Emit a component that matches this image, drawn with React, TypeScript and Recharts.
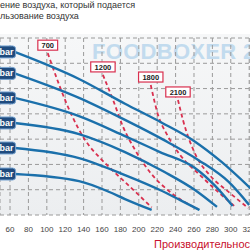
import React from "react";
import { LineChart, Line, XAxis, YAxis, CartesianGrid } from "recharts";

const xTicks = [60, 80, 100, 120, 140, 160, 180, 200, 220, 240, 260, 280, 300, 320];
const yTicks = [0, 1, 2, 3, 4, 5, 6, 7];

// pressure curves (flow, head), top to bottom
const curve1 = [
  { v: 65, p: 6.45 }, { v: 135, p: 5.38 }, { v: 185, p: 4.4 }, { v: 225, p: 3.65 },
  { v: 260, p: 2.93 }, { v: 290, p: 2.1 }, { v: 323, p: 1.0 },
];
const curve2 = [
  { v: 65, p: 5.6 }, { v: 135, p: 4.63 }, { v: 185, p: 3.76 }, { v: 227, p: 2.97 },
  { v: 265, p: 2.17 }, { v: 298, p: 1.3 }, { v: 320, p: 0.4 },
];
const curve3 = [
  { v: 65, p: 4.63 }, { v: 135, p: 3.91 }, { v: 185, p: 3.12 }, { v: 223, p: 2.49 },
  { v: 261, p: 1.86 }, { v: 282, p: 1.19 }, { v: 302, p: 0.36 },
];
const curve4 = [
  { v: 65, p: 3.64 }, { v: 135, p: 3.2 }, { v: 185, p: 2.49 }, { v: 228, p: 1.7 },
  { v: 261, p: 0.99 }, { v: 285, p: 0.32 },
];
const curve5 = [
  { v: 65, p: 2.65 }, { v: 135, p: 2.25 }, { v: 185, p: 1.58 }, { v: 223, p: 0.99 },
  { v: 245, p: 0.59 }, { v: 266, p: 0.2 },
];
const curve6 = [
  { v: 65, p: 1.62 }, { v: 135, p: 1.34 }, { v: 168, p: 0.91 }, { v: 185, p: 0.63 },
  { v: 214, p: 0.2 },
];
const pressureCurves = [curve1, curve2, curve3, curve4, curve5, curve6];

// speed lines
const rpm700 = [
  { v: 101, p: 6.4 }, { v: 127, p: 3.95 }, { v: 141.5, p: 2.97 }, { v: 158, p: 2.25 },
  { v: 171, p: 1.78 }, { v: 186, p: 1.27 }, { v: 214, p: 0.3 },
];
const rpm1200 = [
  { v: 161, p: 5.54 }, { v: 172, p: 4.55 }, { v: 183, p: 3.48 }, { v: 196, p: 2.57 },
  { v: 212, p: 1.7 }, { v: 234, p: 0.91 }, { v: 264, p: 0.24 },
];
const rpm1800 = [
  { v: 213, p: 5.14 }, { v: 221, p: 3.95 }, { v: 231, p: 3.16 }, { v: 245, p: 2.37 },
  { v: 266.5, p: 1.58 }, { v: 290, p: 0.79 }, { v: 305, p: 0.32 },
];
const rpm2100 = [
  { v: 242.6, p: 4.55 }, { v: 248, p: 3.76 }, { v: 263, p: 2.29 }, { v: 277, p: 1.58 },
  { v: 299, p: 0.87 }, { v: 319, p: 0.28 },
];
const rpmLines = [rpm700, rpm1200, rpm1800, rpm2100];
const rpmNames = ["700", "1200", "1800", "2100"];

const BLUE = "#1b70ab";
const RED = "#d9304f";

const barLabel = (props: any) => {
  if (props.index !== 0) return null;
  const { x, y } = props;
  return (
    <g>
      <rect x={x - 32} y={y - 6} width={33} height={12} rx={3} fill="#1f4b7e" stroke="#7aa6d2" strokeWidth={1} />
      <text x={x - 1} y={y + 3} textAnchor="end" fill="#fff" fontSize={9} fontWeight="bold">bar</text>
    </g>
  );
};

const rpmLabel = (name: string) => (props: any) => {
  if (props.index !== 0) return null;
  const { x, y } = props;
  const w = name.length * 4.6 + 6;
  return (
    <g>
      <rect x={x - w / 2} y={y - 13} width={w} height={10} fill="#fff" stroke={RED} strokeWidth={1.2} />
      <text x={x} y={y - 5} textAnchor="middle" fill="#222" fontSize={7.5} fontWeight="bold">{name}</text>
    </g>
  );
};

export default function App() {
  return (
    <div style={{ position: "absolute", left: 0, top: 0, width: 250, height: 250, background: "#fff", fontFamily: "'Liberation Sans', Arial, sans-serif", overflow: "hidden" }}>
      <div style={{ position: "absolute", left: 0, top: 34, width: 250, height: 181, background: "linear-gradient(#f6f7f8, #eceef0)" }} />
      <div style={{ position: "absolute", left: 92, top: 39, fontSize: 22, fontWeight: "bold", color: "#c2dbee", whiteSpace: "nowrap", letterSpacing: 0.3 }}>
        FOODBOXER 2
      </div>
      <div style={{ position: "absolute", left: 0, top: 0 }}>
        <LineChart width={250} height={250} margin={{ top: 38, right: 0, bottom: 0, left: 0 }}>
          <CartesianGrid stroke="#9a9a9a" strokeDasharray="4 3" fill="none" />
          <XAxis
            type="number"
            dataKey="v"
            domain={[49.1, 320.9]}
            ticks={xTicks}
            allowDataOverflow
            axisLine={false}
            tickLine={false}
            height={35}
            tickMargin={5}
            tick={{ fill: "#444", fontSize: 8 }}
            interval={0}
          />
          <YAxis type="number" domain={[0, 7]} ticks={yTicks} hide allowDataOverflow />
          {rpmLines.map((d, i) => (
            <Line
              key={rpmNames[i]}
              data={d}
              dataKey="p"
              type="monotone"
              stroke={RED}
              strokeWidth={1.8}
              strokeDasharray="4 3"
              dot={false}
              label={rpmLabel(rpmNames[i])}
              isAnimationActive={false}
            />
          ))}
          {pressureCurves.map((d, i) => (
            <Line
              key={"c" + i}
              data={d}
              dataKey="p"
              type="monotone"
              stroke={BLUE}
              strokeWidth={2.4}
              dot={false}
              label={barLabel}
              isAnimationActive={false}
            />
          ))}
        </LineChart>
      </div>
      <div style={{ position: "absolute", left: 0, top: 0, fontSize: 9, lineHeight: "11px", color: "#333", whiteSpace: "nowrap" }}>
        <div>ение воздуха, который подается</div>
        <div>льзование воздуха</div>
      </div>
      <div style={{ position: "absolute", left: 154, top: 238, fontSize: 11, color: "#c8102e", whiteSpace: "nowrap" }}>
        Производительность
      </div>
    </div>
  );
}
